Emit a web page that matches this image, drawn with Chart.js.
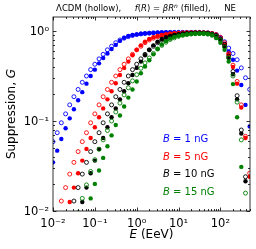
<!DOCTYPE html>
<html>
<head>
<meta charset="utf-8">
<script src="https://cdn.jsdelivr.net/npm/chart.js@4"></script>
<style>
  body { margin: 0; background: #fff; }
  #wrap { width: 256px; height: 249px; }
</style>
</head>
<body>
<div id="wrap"><canvas id="chart" width="256" height="249"></canvas></div>
<script>
// energies (EeV)
const energy = [0.01, 0.0126, 0.0158, 0.02, 0.0251, 0.0316, 0.0398, 0.0501, 0.0631, 0.0794,
  0.1, 0.126, 0.158, 0.2, 0.251, 0.316, 0.398, 0.501, 0.631, 0.794,
  1, 1.26, 1.58, 2, 2.51, 3.16, 3.98, 5.01, 6.31, 7.94,
  10, 12.6, 15.8, 20, 25.1, 31.6, 39.8, 50.1, 63.1, 79.4,
  100, 126, 158, 200, 251, 316, 398, 501];

// suppression G, hollow = LCDM, filled = f(R)
const blueHollow = [0.0589, 0.0741, 0.0955, 0.120, 0.151, 0.186, 0.224, 0.269, 0.316, 0.372,
  0.427, 0.490, 0.550, 0.617, 0.676, 0.741, 0.794, 0.832, 0.865, 0.891,
  0.912, 0.927, 0.938, 0.946, 0.953, 0.957, 0.962, 0.966, 0.966, 0.966,
  0.966, 0.966, 0.966, 0.966, 0.966, 0.964, 0.959, 0.953, 0.938, 0.912,
  0.851, 0.759, 0.646, 0.562, 0.479, 0.389, 0.302, 0.224];
const blueFilled = [0.0347, 0.0468, 0.0631, 0.0832, 0.107, 0.135, 0.170, 0.209, 0.260, 0.316,
  0.372, 0.437, 0.501, 0.562, 0.631, 0.700, 0.776, 0.841, 0.879, 0.902,
  0.918, 0.931, 0.940, 0.946, 0.953, 0.957, 0.962, 0.964, 0.966, 0.966,
  0.966, 0.966, 0.966, 0.966, 0.966, 0.964, 0.959, 0.951, 0.933, 0.902,
  0.832, 0.724, 0.589, 0.479, 0.363, 0.251, 0.151, 0.0871];
const redHollow = [null, null, 0.0129, 0.0182, 0.0257, 0.0347, 0.0457, 0.0589, 0.0741, 0.0955,
  0.120, 0.151, 0.186, 0.224, 0.269, 0.316, 0.372, 0.427, 0.490, 0.550,
  0.617, 0.676, 0.741, 0.794, 0.832, 0.865, 0.891, 0.912, 0.927, 0.938,
  0.946, 0.953, 0.957, 0.959, 0.962, 0.962, 0.959, 0.953, 0.940, 0.912,
  0.851, 0.741, 0.562, 0.417, 0.275, 0.151, 0.0676, 0.0263];
const redFilled = [null, null, null, null, 0.0126, 0.0182, 0.0263, 0.0363, 0.0490, 0.0646,
  0.0851, 0.110, 0.138, 0.174, 0.214, 0.263, 0.324, 0.389, 0.457, 0.537,
  0.617, 0.692, 0.759, 0.813, 0.851, 0.881, 0.902, 0.918, 0.931, 0.940,
  0.946, 0.951, 0.955, 0.957, 0.957, 0.957, 0.953, 0.944, 0.927, 0.891,
  0.813, 0.708, 0.550, 0.398, 0.260, 0.141, 0.0646, 0.0240];
const blackHollow = [null, null, null, null, null, 0.0129, 0.0182, 0.0257, 0.0347, 0.0457,
  0.0589, 0.0741, 0.0955, 0.120, 0.151, 0.186, 0.224, 0.269, 0.316, 0.372,
  0.427, 0.490, 0.550, 0.617, 0.676, 0.741, 0.794, 0.832, 0.865, 0.891,
  0.912, 0.927, 0.938, 0.944, 0.948, 0.951, 0.948, 0.940, 0.923, 0.891,
  0.813, 0.708, 0.525, 0.355, 0.191, 0.0794, 0.0240, null];
const blackFilled = [null, null, null, null, null, null, null, 0.0126, 0.0182, 0.0263,
  0.0363, 0.0490, 0.0646, 0.0851, 0.110, 0.138, 0.174, 0.214, 0.263, 0.324,
  0.389, 0.457, 0.537, 0.617, 0.692, 0.759, 0.813, 0.851, 0.881, 0.902,
  0.918, 0.931, 0.940, 0.946, 0.951, 0.953, 0.951, 0.942, 0.923, 0.881,
  0.794, 0.676, 0.501, 0.331, 0.174, 0.0724, 0.0214, null];
const greenHollow = [null, null, null, null, null, null, 0.0096, 0.0138, 0.0195, 0.0275,
  0.0372, 0.0484, 0.0617, 0.0785, 0.100, 0.126, 0.158, 0.195, 0.234, 0.279,
  0.327, 0.385, 0.442, 0.501, 0.562, 0.631, 0.692, 0.750, 0.804, 0.838,
  0.871, 0.895, 0.912, 0.925, 0.933, 0.938, 0.938, 0.929, 0.912, 0.871,
  0.794, 0.661, 0.501, 0.316, 0.162, 0.0617, 0.0158, null];
const greenFilled = [null, null, null, null, null, null, null, null, null, 0.0138,
  0.0200, 0.0282, 0.0389, 0.0525, 0.0692, 0.0902, 0.115, 0.145, 0.182, 0.224,
  0.275, 0.339, 0.403, 0.473, 0.550, 0.631, 0.708, 0.771, 0.822, 0.859,
  0.885, 0.904, 0.916, 0.925, 0.931, 0.933, 0.931, 0.920, 0.891, 0.832,
  0.741, 0.617, 0.457, 0.257, 0.110, 0.0309, null, null];

const fieldLabels = ['1', '5', '10', '15'];
const colors = ['#0000ff', '#ff0000', '#000000', '#008000'];
const xTickLabels = { '-2': '10⁻²', '-1': '10⁻¹', '0': '10⁰', '1': '10¹', '2': '10²' };
const yTickLabels = { '-2': '10⁻²', '-1': '10⁻¹', '0': '10⁰' };

const FONT = '"DejaVu Sans", sans-serif';

function points(arr) {
    return energy.map((e, i) => ({ x: e, y: arr[i] })).filter(p => p.y !== null);
}

function series(arr, color, hollow, order) {
    return {
        data: points(arr),
        showLine: false,
        order: order,
        clip: 0,
        pointRadius: hollow ? 2 : 2.2,
        pointHoverRadius: hollow ? 2 : 2.2,
        pointBorderWidth: hollow ? 0.9 : 0,
        pointBorderColor: color,
        pointBackgroundColor: hollow ? 'rgba(0,0,0,0)' : color
    };
}

function powerLabel(map) {
    return function (value) {
        const l = Math.log10(value);
        const r = Math.round(l);
        if (Math.abs(l - r) < 1e-6 && map[String(r)] !== undefined) return map[String(r)];
        return '';
    };
}

// draw text made of runs with different fonts
function drawRuns(ctx, runs, x, y, align) {
    let total = 0;
    runs.forEach(r => { ctx.font = r.font; total += ctx.measureText(r.t).width; });
    let cx = align === 'center' ? x - total / 2 : x;
    runs.forEach(r => {
        ctx.font = r.font;
        ctx.fillStyle = r.color || '#000';
        ctx.fillText(r.t, cx, y + (r.dy || 0));
        cx += ctx.measureText(r.t).width;
    });
}

const decor = {
    id: 'decor',
    afterDraw(chart) {
        const ctx = chart.ctx;
        const a = chart.chartArea;
        const xs = chart.scales.x, ys = chart.scales.y;
        ctx.save();
        ctx.strokeStyle = '#000';
        ctx.lineWidth = 0.8;

        // inward ticks on all four sides
        ctx.beginPath();
        for (let e = -2; e <= 2; e++) {
            for (let m = 1; m <= 9; m++) {
                const v = m * Math.pow(10, e);
                if (v < xs.min || v > xs.max) continue;
                const px = Math.round(xs.getPixelForValue(v)) + 0.5;
                const len = m === 1 ? 3.5 : 2;
                ctx.moveTo(px, a.bottom); ctx.lineTo(px, a.bottom - len);
                ctx.moveTo(px, a.top); ctx.lineTo(px, a.top + len);
            }
        }
        for (let e = -2; e <= 0; e++) {
            for (let m = 1; m <= 9; m++) {
                const v = m * Math.pow(10, e);
                if (v < ys.min || v > ys.max) continue;
                const py = Math.round(ys.getPixelForValue(v)) + 0.5;
                const len = m === 1 ? 3.5 : 2;
                ctx.moveTo(a.left, py); ctx.lineTo(a.left + len, py);
                ctx.moveTo(a.right, py); ctx.lineTo(a.right - len, py);
            }
        }
        ctx.stroke();
        ctx.strokeRect(a.left, a.top, a.right - a.left, a.bottom - a.top);

        ctx.textBaseline = 'middle';
        ctx.textAlign = 'left';

        // title
        const tn = '8.5px ' + FONT, ti = 'italic 8.5px ' + FONT;
        const gap = '     ';
        drawRuns(ctx, [
            { t: 'ΛCDM (hollow),' + gap, font: tn },
            { t: 'f', font: ti }, { t: '(', font: tn }, { t: 'R', font: ti },
            { t: ') = ', font: tn }, { t: 'βR', font: ti },
            { t: 'n', font: 'italic 6px ' + FONT, dy: -3 },
            { t: ' (filled),' + gap, font: tn },
            { t: 'NE', font: tn }
        ], 146, 9, 'center');

        // legend text
        const ln = '10px ' + FONT, li = 'italic 10px ' + FONT;
        const ly = [139.5, 157, 174.5, 192.5];
        fieldLabels.forEach((b, i) => {
            drawRuns(ctx, [
                { t: 'B', font: li, color: colors[i] },
                { t: ' = ' + b + ' nG', font: ln, color: colors[i] }
            ], 163, ly[i], 'left');
        });

        // axis titles
        const an = '12px ' + FONT, ai = 'italic 12px ' + FONT;
        drawRuns(ctx, [{ t: 'E', font: ai }, { t: ' (EeV)', font: an }], (a.left + a.right) / 2, 235, 'center');
        ctx.translate(12, (a.top + a.bottom) / 2);
        ctx.rotate(-Math.PI / 2);
        drawRuns(ctx, [{ t: 'Suppression, ', font: an }, { t: 'G', font: ai }], 0, 0, 'center');
        ctx.restore();
    }
};

const tickFont = { family: FONT, size: 11.5 };

new Chart(document.getElementById('chart'), {
    type: 'scatter',
    data: {
        datasets: [
            series(greenFilled, colors[3], false, 0),
            series(greenHollow, colors[3], true, 1),
            series(blackFilled, colors[2], false, 2),
            series(blackHollow, colors[2], true, 3),
            series(redFilled, colors[1], false, 4),
            series(redHollow, colors[1], true, 5),
            series(blueFilled, colors[0], false, 6),
            series(blueHollow, colors[0], true, 7)
        ]
    },
    options: {
        responsive: false,
        animation: false,
        devicePixelRatio: 1,
        layout: { padding: { top: 17, right: 5, left: 0, bottom: 0 } },
        plugins: { legend: { display: false }, tooltip: { enabled: false } },
        scales: {
            x: {
                type: 'logarithmic',
                min: 0.01,
                max: 510,
                grid: { display: false, drawTicks: false },
                border: { display: false },
                ticks: { callback: powerLabel(xTickLabels), autoSkip: false, maxRotation: 0,
                    font: tickFont, color: '#000', padding: 6 },
                afterFit(scale) { scale.height = 38; }
            },
            y: {
                type: 'logarithmic',
                min: 0.01,
                max: 1.43,
                grid: { display: false, drawTicks: false },
                border: { display: false },
                ticks: { callback: powerLabel(yTickLabels), autoSkip: false,
                    font: tickFont, color: '#000', padding: 4, labelOffset: 1.5 },
                afterFit(scale) { scale.width = 53; }
            }
        }
    },
    plugins: [decor]
});
</script>
</body>
</html>
